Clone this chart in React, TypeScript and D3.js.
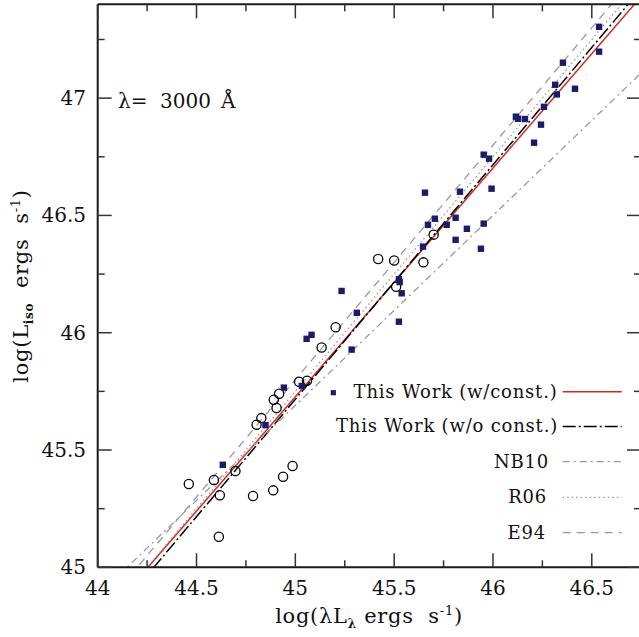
import React from 'react';
import * as d3 from 'd3';

// ---------- data ----------
const squareX = [46.537, 46.537, 46.354, 46.315, 46.323, 46.415, 46.258, 46.116, 46.127, 46.162, 46.243, 46.208, 45.953, 45.980, 45.993, 45.833, 45.656, 45.706, 45.671, 45.766, 45.811, 45.868, 45.953, 45.811, 45.646, 45.939, 45.524, 45.528, 45.538, 45.234, 45.311, 45.524, 45.285, 45.082, 45.057, 44.942, 45.033, 44.849, 44.633];
const squareY = [47.304, 47.198, 47.151, 47.057, 47.016, 47.040, 46.963, 46.921, 46.912, 46.911, 46.887, 46.810, 46.759, 46.742, 46.614, 46.601, 46.597, 46.486, 46.460, 46.460, 46.490, 46.443, 46.465, 46.396, 46.367, 46.358, 46.228, 46.216, 46.168, 46.178, 46.085, 46.047, 45.928, 45.991, 45.974, 45.766, 45.773, 45.606, 45.437];

const circleX = [45.419, 45.500, 45.648, 45.700, 45.510, 45.204, 45.133, 45.019, 45.059, 44.918, 44.891, 44.905, 44.828, 44.804, 44.697, 44.588, 44.461, 44.618, 44.786, 44.888, 44.938, 44.986, 44.613];
const circleY = [46.314, 46.308, 46.300, 46.418, 46.196, 46.023, 45.937, 45.791, 45.795, 45.740, 45.714, 45.679, 45.636, 45.608, 45.410, 45.372, 45.355, 45.307, 45.304, 45.328, 45.386, 45.432, 45.130];

const xTicks = [44, 44.5, 45, 45.5, 46, 46.5];
const yTicks = [45, 45.5, 46, 46.5, 47];
const xMinor = [44.25, 44.75, 45.25, 45.75, 46.25, 46.75];
const yMinor = [45.25, 45.75, 46.25, 46.75, 47.25];

const fitNames = ['This Work (w/const.)', 'This Work (w/o const.)', 'NB10', 'R06', 'E94'];
const fitIntercepts = [1.852, Math.log10(5.2), 9.24, 0.75, 0.80];
const fitSlopes = [0.975, 1, 0.81, 1, 1];

// ---------- styles ----------
const fitColors = ['#d42a1e', '#000000', '#9a9a9a', '#9a9a9a', '#9a9a9a'];
const fitDash = ['none', '13,3,2,3', '7,4,2,4', '1.5,3', '8,6'];
const fitWidth = [1.5, 1.5, 1.3, 1.3, 1.3];
const legendTextEnd = [557.5, 558, 549, 547, 546];

const FONT = '"DejaVu Serif", serif';

export default function App() {
  const W = 639, H = 637;
  const left = 97.7, right = 641, top = 4.3, bottom = 567.3;
  const x = d3.scaleLinear().domain([44, 46.749]).range([left, right]);
  const y = d3.scaleLinear().domain([45, 47.4]).range([bottom, top]);

  const fitPath = (k: number) => {
    const xs = [43.8, 46.9];
    return d3.line<number>()
      .x(d => x(d))
      .y(d => y(fitIntercepts[k] + fitSlopes[k] * d))(xs) || '';
  };

  const legendY = [391.7, 426.4, 461.7, 497.3, 532.7];

  return (
    <svg width={W} height={H} style={{ position: 'absolute', left: 0, top: 0, background: '#fff' }} fontFamily={FONT}>
      <defs>
        <clipPath id="plotclip">
          <rect x={left} y={top} width={right - left} height={bottom - top} />
        </clipPath>
      </defs>
      <rect x={0} y={0} width={W} height={H} fill="#fff" />

      {/* fit lines */}
      <g clipPath="url(#plotclip)">
        {fitNames.map((n, k) => (
          <path key={n} d={fitPath(k)} fill="none" stroke={fitColors[k]} strokeWidth={fitWidth[k]}
            strokeDasharray={fitDash[k]} />
        ))}
      </g>

      {/* points */}
      <g>
        {circleX.map((cx, i) => (
          <circle key={'c' + i} cx={x(cx)} cy={y(circleY[i])} r={4.6} fill="none" stroke="#000" strokeWidth={1.3} />
        ))}
        {squareX.map((sx, i) => (
          <rect key={'s' + i} x={x(sx) - 3.2} y={y(squareY[i]) - 3.2} width={6.4} height={6.4} fill="#1b1b6e" />
        ))}
      </g>

      {/* axes frame */}
      <g stroke="#1a1a1a" strokeWidth={2} fill="none">
        <line x1={left} y1={bottom} x2={right} y2={bottom} />
        <line x1={left} y1={top} x2={right} y2={top} />
        <line x1={left} y1={top} x2={left} y2={bottom} />
        <line x1={right} y1={top} x2={right} y2={bottom} />
      </g>
      <g stroke="#333" strokeWidth={1.5}>
        {xTicks.map(t => (
          <g key={'xt' + t}>
            <line x1={x(t)} x2={x(t)} y1={bottom} y2={bottom - 14} />
            <line x1={x(t)} x2={x(t)} y1={top} y2={top + 14} />
          </g>
        ))}
        {xMinor.map(t => (
          <g key={'xm' + t}>
            <line x1={x(t)} x2={x(t)} y1={bottom} y2={bottom - 7} />
            <line x1={x(t)} x2={x(t)} y1={top} y2={top + 7} />
          </g>
        ))}
        {yTicks.map(t => (
          <g key={'yt' + t}>
            <line x1={left} x2={left + 14} y1={y(t)} y2={y(t)} />
            <line x1={right} x2={right - 14} y1={y(t)} y2={y(t)} />
          </g>
        ))}
        {yMinor.map(t => (
          <g key={'ym' + t}>
            <line x1={left} x2={left + 7} y1={y(t)} y2={y(t)} />
            <line x1={right} x2={right - 7} y1={y(t)} y2={y(t)} />
          </g>
        ))}
      </g>

      {/* tick labels */}
      <g fontSize={20} fill="#111">
        {xTicks.map(t => (
          <text key={'xl' + t} x={x(t)} y={595} textAnchor="middle">{String(t)}</text>
        ))}
        {yTicks.map(t => (
          <text key={'yl' + t} x={86} y={y(t) + 7} textAnchor="end">{String(t)}</text>
        ))}
      </g>

      {/* axis titles */}
      <text x={369} y={623} textAnchor="middle" fontSize={21} fill="#111" letterSpacing={0.7}>
        log(λL<tspan dy={5} fontSize={12} fontWeight="bold">λ</tspan>
        <tspan dy={-5}>{'\u00A0ergs\u00A0 s'}</tspan>
        <tspan dy={-8} fontSize={13}>-1</tspan>
        <tspan dy={8}>)</tspan>
      </text>
      <text transform="translate(28,286) rotate(-90)" textAnchor="middle" fontSize={21} fill="#111" letterSpacing={0.7}>
        log(L<tspan dy={5} fontSize={12} fontWeight="bold">iso</tspan>
        <tspan dy={-5}>{'\u00A0 ergs\u00A0 s'}</tspan>
        <tspan dy={-8} fontSize={13}>-1</tspan>
        <tspan dy={8}>)</tspan>
      </text>

      {/* annotation */}
      <g fontSize={20} fill="#111">
        <text x={118} y={108}>λ=</text>
        <text x={160} y={108}>3000</text>
        <text x={221} y={108}>Å</text>
      </g>

      {/* legend */}
      <g fontSize={18} fill="#111">
        <rect x={333.3 - 2.6} y={392.7 - 2.6} width={5.2} height={5.2} fill="#1b1b6e" />
        {fitNames.map((n, k) => (
          <g key={'lg' + n}>
            <text x={legendTextEnd[k]} y={legendY[k] + 6} textAnchor="end" letterSpacing={0.8}>{n}</text>
            <line x1={562.7} x2={621.7} y1={legendY[k]} y2={legendY[k]} stroke={fitColors[k]}
              strokeWidth={fitWidth[k]} strokeDasharray={fitDash[k]} />
          </g>
        ))}
      </g>
    </svg>
  );
}
